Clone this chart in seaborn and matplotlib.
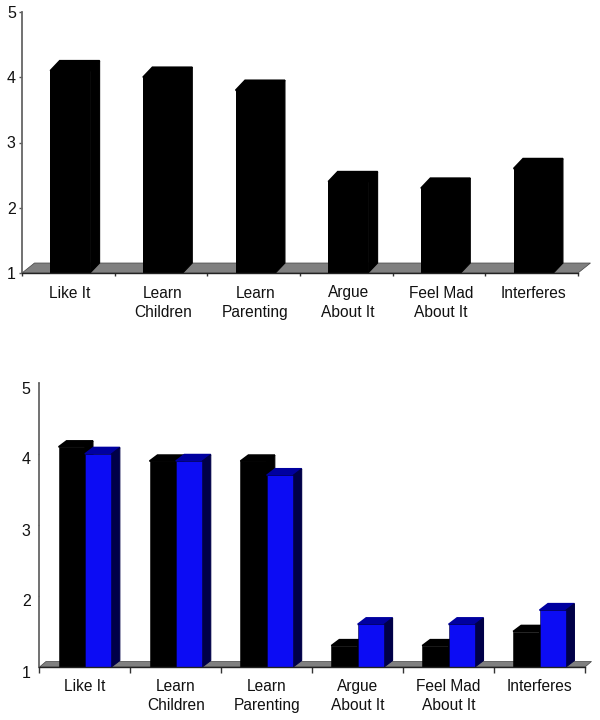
import numpy as np
import pandas as pd
import seaborn as sns
import matplotlib.pyplot as plt
from matplotlib.patches import Polygon
from matplotlib.transforms import ScaledTranslation

# chart values
categories = ['Like It', 'Learn\nChildren', 'Learn\nParenting', 'Argue\nAbout It', 'Feel Mad\nAbout It', 'Interferes']
top_values = [4.1, 4.0, 3.8, 2.4, 2.3, 2.6]
bottom_black = [4.1, 3.9, 3.9, 1.3, 1.3, 1.5]
bottom_blue = [4.0, 3.9, 3.7, 1.6, 1.6, 1.8]
y_ticks = [1, 2, 3, 4, 5]

sns.set_style('white')
plt.rcParams['font.family'] = ['Liberation Sans', 'DejaVu Sans']

W, H = 600, 720
fig = plt.figure(figsize=(W / 100, H / 100), dpi=100)


def make_axes(left, right, top, bottom):
    return fig.add_axes([left / W, 1 - bottom / H, (right - left) / W, (bottom - top) / H])


def px_to_data(ax, dx, dy):
    # pixel offsets -> data offsets for this axes
    box = ax.get_position()
    x0, x1 = ax.get_xlim()
    y0, y1 = ax.get_ylim()
    return dx * (x1 - x0) / (box.width * W), dy * (y1 - y0) / (box.height * H)


def add_depth(ax, bars, dx, dy, top_col, side_col, z):
    # fake 3d sides for every bar, top face runs a bit into the front to hide the seam
    ox, oy = px_to_data(ax, dx, dy)
    for b in bars:
        x0 = b.get_x()
        x1 = x0 + b.get_width()
        v = b.get_height()
        top = [(x0, v), (x0 + ox, v + oy), (x1 + ox, v + oy), (x1, v)]
        side = [(x1, v), (x1 + ox, v + oy), (x1 + ox, 1 + oy), (x1, 1)]
        ax.add_patch(Polygon(top, closed=True, fc=top_col, ec=top_col, lw=1.2, zorder=z, clip_on=False))
        ax.add_patch(Polygon(side, closed=True, fc=side_col, ec=side_col, lw=0.8, zorder=z, clip_on=False))


def finish_axes(ax, xlim, floor_dx, floor_dy, xtick_len, ytick_len, pad, ypad, ylab_drop):
    ax.set_xlim(*xlim)
    ax.set_ylim(1, 5)
    ax.set_xlabel('')
    ax.set_ylabel('')
    ax.set_yticks(y_ticks)
    ax.set_xticks([xlim[0] + i for i in range(7)])
    ax.set_xticklabels([])
    ax.set_xticks(np.arange(6), labels=categories, minor=True)
    ax.tick_params(axis='x', which='major', bottom=True, length=xtick_len, width=1, color='#333333')
    ax.tick_params(axis='x', which='minor', bottom=False, length=0, pad=pad, labelsize=11.2, labelcolor='#111111')
    ax.tick_params(axis='y', left=True, length=ytick_len, width=1, color='#555555', pad=ypad, labelsize=11.5, labelcolor='#111111')
    for lab in ax.get_xticklabels(minor=True):
        lab.set_linespacing(1.35)
    # y labels sit a little under their ticks in the lower chart
    drop = ScaledTranslation(0, -ylab_drop / 100, fig.dpi_scale_trans)
    for lab in ax.get_yticklabels():
        lab.set_transform(lab.get_transform() + drop)
    sns.despine(ax=ax)
    ax.spines['left'].set_color('#666666')
    ax.spines['left'].set_linewidth(1.3)
    ax.spines['bottom'].set_color('#222222')
    ax.spines['bottom'].set_linewidth(1)
    # grey floor
    ox, oy = px_to_data(ax, floor_dx, floor_dy)
    floor = [(xlim[0], 1), (xlim[0] + ox, 1 + oy), (xlim[1] + ox, 1 + oy), (xlim[1], 1)]
    ax.add_patch(Polygon(floor, closed=True, fc='#808080', ec='#444444', lw=0.5, zorder=0.5, clip_on=False))


# top chart
ax1 = make_axes(22, 578, 12, 273)
sns.barplot(x=categories, y=top_values, color='black', width=0.43, saturation=1,
            edgecolor='black', linewidth=0, errorbar=None, ax=ax1)
finish_axes(ax1, (-0.52, 5.48), 12.5, 10, 2.4, 2, 9, 2.5, 0)
for b in ax1.containers[0]:
    b.set_zorder(1.0)
add_depth(ax1, ax1.containers[0], 9.5, 10, 'black', 'black', 2.2)

# bottom chart
df = pd.DataFrame({
    'cat': categories * 2,
    'value': bottom_black + bottom_blue,
    'group': ['black'] * 6 + ['blue'] * 6,
})
ax2 = make_axes(39.5, 585, 383, 667)
sns.barplot(data=df, x='cat', y='value', hue='group', palette=['black', '#0c0cf4'], width=0.58,
            saturation=1, legend=False, edgecolor='black', linewidth=0.4, errorbar=None, ax=ax2)
finish_axes(ax2, (-0.5, 5.5), 6.5, 5.5, 4.3, 0.8, 8.5, 5.5, 4.5)
black_bars, blue_bars = ax2.containers[0], ax2.containers[1]
for b in black_bars:
    b.set_zorder(1.0)
add_depth(ax2, black_bars, 8, 6, 'black', 'black', 1.05)
add_depth(ax2, blue_bars, 8.5, 6.5, '#0000a0', '#000048', 1.1)
for b in blue_bars:
    b.set_zorder(1.2)
    b.set_edgecolor('#000030')

fig.savefig('out.png', dpi=100, facecolor='white')
